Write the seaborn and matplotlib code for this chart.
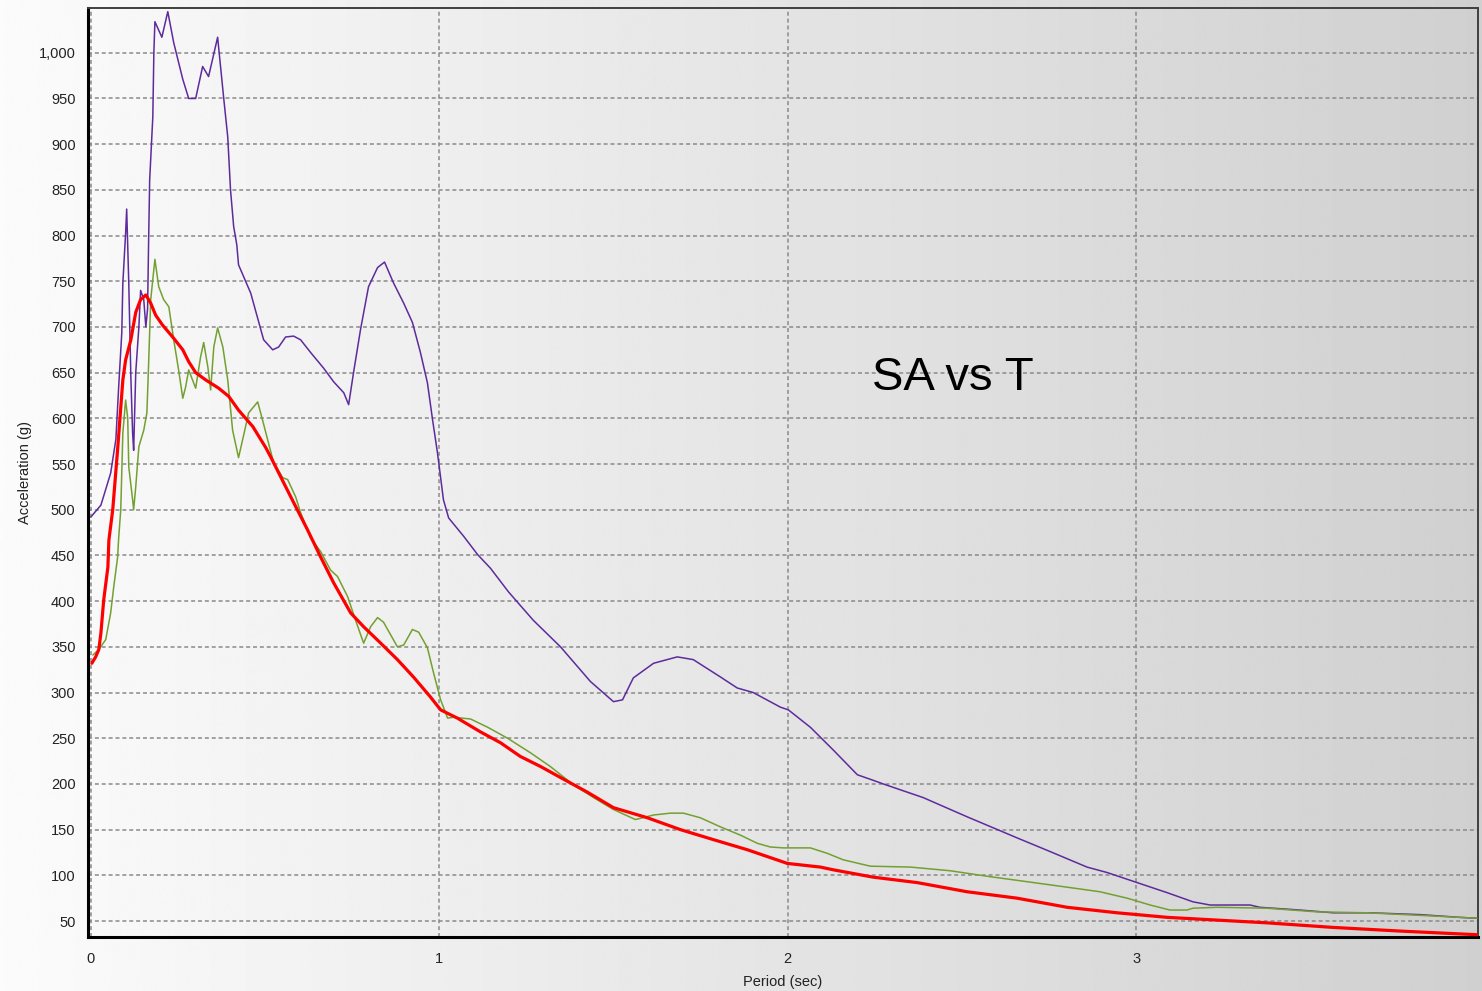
import numpy as np
import pandas as pd
import matplotlib
matplotlib.use("Agg")
import matplotlib.pyplot as plt
from matplotlib.ticker import MultipleLocator, FuncFormatter
import seaborn as sns

# ---- data ----
purple_T = [0.000, 0.029, 0.057, 0.072, 0.080, 0.089, 0.092, 0.100, 0.103, 0.109, 0.115, 0.120,
            0.123, 0.129, 0.138, 0.143, 0.152, 0.158, 0.163, 0.166, 0.169, 0.178, 0.181, 0.184,
            0.204, 0.221, 0.238, 0.264, 0.281, 0.301, 0.321, 0.338, 0.364, 0.381, 0.393, 0.401,
            0.410, 0.419, 0.424, 0.459, 0.496, 0.522, 0.539, 0.559, 0.582, 0.602, 0.631, 0.668,
            0.697, 0.726, 0.740, 0.754, 0.774, 0.797, 0.823, 0.843, 0.869, 0.898, 0.923, 0.946,
            0.966, 0.981, 0.995, 1.012, 1.027, 1.070, 1.110, 1.147, 1.199, 1.270, 1.348, 1.434,
            1.500, 1.526, 1.557, 1.615, 1.683, 1.729, 1.807, 1.855, 1.901, 1.979, 2.002, 2.065,
            2.131, 2.200, 2.245, 2.274, 2.389, 2.515, 2.658, 2.753, 2.859, 2.917, 3.003, 3.089,
            3.163, 3.212, 3.327, 3.355, 3.470, 3.565, 3.671, 3.814, 3.929, 3.978]
purple_SA = [492, 505, 540, 577, 634, 694, 748, 803, 829, 748, 645, 584,
             565, 650, 700, 740, 730, 700, 720, 795, 861, 930, 1000, 1034,
             1017, 1045, 1011, 971, 950, 950, 985, 974, 1017, 952, 908, 850,
             810, 790, 768, 737, 686, 675, 678, 689, 690, 686, 672, 655,
             640, 628, 615, 650, 697, 744, 765, 771, 748, 726, 705, 672,
             639, 598, 562, 511, 491, 471, 451, 436, 410, 379, 350, 312,
             290, 292, 316, 332, 339, 336, 317, 305, 300, 284, 281, 262,
             237, 210, 204, 200, 185, 164, 141, 126, 109, 103, 92, 81,
             71, 67.5, 67.5, 65, 62, 59, 59, 57, 54, 53]

green_T = [0.006, 0.023, 0.043, 0.057, 0.066, 0.077, 0.080, 0.086, 0.092, 0.100, 0.106, 0.109,
           0.120, 0.123, 0.129, 0.138, 0.152, 0.161, 0.166, 0.172, 0.184, 0.195, 0.209, 0.224,
           0.238, 0.252, 0.264, 0.272, 0.281, 0.301, 0.315, 0.324, 0.336, 0.344, 0.353, 0.364,
           0.379, 0.393, 0.407, 0.424, 0.436, 0.453, 0.479, 0.493, 0.525, 0.551, 0.565, 0.588,
           0.602, 0.631, 0.660, 0.688, 0.708, 0.737, 0.760, 0.783, 0.803, 0.823, 0.840, 0.880,
           0.898, 0.923, 0.941, 0.966, 0.984, 1.004, 1.024, 1.041, 1.090, 1.139, 1.196, 1.262,
           1.319, 1.385, 1.443, 1.500, 1.563, 1.615, 1.663, 1.701, 1.749, 1.807, 1.864, 1.913,
           1.950, 1.987, 2.065, 2.114, 2.159, 2.237, 2.352, 2.466, 2.572, 2.687, 2.802, 2.896,
           2.974, 3.040, 3.097, 3.146, 3.163, 3.232, 3.375, 3.519, 3.662, 3.851, 3.978]
green_SA = [341, 347, 358, 387, 416, 448, 469, 500, 584, 620, 600, 547,
            511, 500, 525, 569, 587, 606, 660, 730, 774, 744, 730, 722,
            686, 653, 622, 634, 653, 633, 667, 683, 656, 631, 678, 699,
            678, 642, 587, 557, 577, 606, 618, 598, 551, 535, 533, 514,
            497, 469, 454, 434, 427, 405, 379, 354, 372, 382, 377, 350,
            352, 369, 366, 349, 321, 292, 272, 273, 271, 262, 250, 234,
            219, 199, 185, 172, 161, 166, 168, 168, 163, 153, 144, 135,
            131, 130, 130, 124, 117, 110, 109, 105, 99, 93, 87, 82,
            75, 67.5, 62, 62, 64, 65, 64, 60, 59, 55.5, 53]

red_T = [0.003, 0.014, 0.023, 0.029, 0.037, 0.049, 0.052, 0.063, 0.077, 0.092, 0.100, 0.115,
         0.129, 0.143, 0.158, 0.172, 0.186, 0.206, 0.235, 0.264, 0.281, 0.301, 0.330, 0.367,
         0.396, 0.424, 0.465, 0.502, 0.516, 0.545, 0.582, 0.622, 0.660, 0.697, 0.746, 0.783,
         0.832, 0.880, 0.926, 0.975, 1.004, 1.052, 1.118, 1.176, 1.233, 1.291, 1.348, 1.425,
         1.500, 1.597, 1.692, 1.787, 1.884, 1.999, 2.094, 2.131, 2.245, 2.372, 2.515, 2.658,
         2.802, 2.945, 3.089, 3.232, 3.327, 3.375, 3.565, 3.757, 3.978]
red_SA = [332, 339, 347, 365, 401, 437, 467, 500, 566, 642, 664, 686,
          716, 730, 735, 726, 713, 702, 689, 675, 662, 650, 642, 633,
          624, 609, 591, 568, 558, 536, 508, 478, 448, 420, 387, 372,
          354, 336, 317, 295, 281, 272, 257, 245, 230, 219, 207, 191,
          174, 163, 150, 139, 128, 113, 109, 106, 98, 92, 82, 75,
          65, 59, 54, 51, 49, 48, 43, 39, 35]

x_label = "Period (sec)"
y_label = "Acceleration (g)"
chart_title = "SA vs T"

# ---- style ----
sns.set_style("white")
plt.rcParams["font.family"] = ["Liberation Sans", "DejaVu Sans"]

W, H = 1482, 991
fig = plt.figure(figsize=(W / 100, H / 100), dpi=100)

# background gradient (white on the left to grey on the right)
bg = fig.add_axes([0, 0, 1, 1], zorder=-10)
grad = np.linspace(0.985, 0.815, 512)[None, :]
bg.imshow(grad, cmap="gray", vmin=0, vmax=1, aspect="auto", extent=[0, 1, 0, 1])
bg.axis("off")

ax = fig.add_axes([88 / W, 1 - 937 / H, (1478 - 88) / W, (937 - 8) / H], zorder=1)
ax.set_facecolor("none")

df_p = pd.DataFrame({"T": purple_T, "SA": purple_SA})
df_g = pd.DataFrame({"T": green_T, "SA": green_SA})
df_r = pd.DataFrame({"T": red_T, "SA": red_SA})

sns.lineplot(data=df_p, x="T", y="SA", ax=ax, color="#5e2b9c", linewidth=1.1,
             estimator=None, sort=False, zorder=3)
sns.lineplot(data=df_g, x="T", y="SA", ax=ax, color="#73a030", linewidth=1.1,
             estimator=None, sort=False, zorder=4)
sns.lineplot(data=df_r, x="T", y="SA", ax=ax, color="#ff0000", linewidth=2.3,
             estimator=None, sort=False, zorder=5)

ax.set_xlim(-0.008, 3.981)
ax.set_ylim(32.5, 1049)

ax.xaxis.set_major_locator(MultipleLocator(1))
ax.xaxis.set_minor_locator(MultipleLocator(0.25))
ax.yaxis.set_major_locator(MultipleLocator(50))
ax.yaxis.set_minor_locator(MultipleLocator(10))
ax.yaxis.set_major_formatter(FuncFormatter(lambda v, p: f"{v:,.0f}"))
ax.xaxis.set_major_formatter(FuncFormatter(lambda v, p: f"{v:.0f}"))

ax.grid(True, which="major", color="#8a8a8a", linestyle=(0, (2.6, 1.9)), linewidth=1.1, zorder=1)
ax.set_axisbelow(True)

ax.tick_params(axis="both", which="major", direction="out", length=4, width=1,
               color="#606060", labelsize=10.5, labelcolor="#222222")
ax.tick_params(axis="both", which="minor", direction="out", length=3, width=1, color="#606060")
ax.tick_params(axis="x", which="major", pad=7)
ax.tick_params(axis="y", which="major", pad=5)

for side in ["left", "bottom"]:
    ax.spines[side].set_linewidth(2.2)
    ax.spines[side].set_color("black")
for side in ["top", "right"]:
    ax.spines[side].set_linewidth(1.4)
    ax.spines[side].set_color("#404040")

ax.set_xlabel(x_label, fontsize=10.5, color="#222222", labelpad=6)
ax.set_ylabel(y_label, fontsize=10.5, color="#222222", labelpad=5)

ax.text(2.243, 644, chart_title, fontsize=34, color="black", ha="left", va="center", zorder=6)

fig.savefig("out.png", dpi=100)
